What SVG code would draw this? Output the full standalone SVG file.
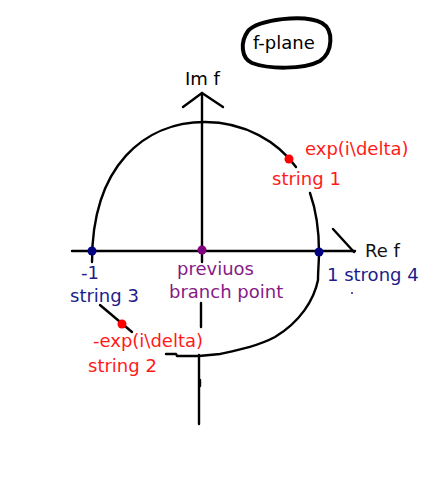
<svg xmlns="http://www.w3.org/2000/svg" width="427" height="502" viewBox="0 0 427 502">
<style>
.t{font-family:"DejaVu Sans",sans-serif;font-size:18px}
.ln{fill:none;stroke:#000;stroke-width:2.4;stroke-linecap:round;stroke-linejoin:round}
.red{fill:#ff1a1a}.navy{fill:#1c1c8c}.pur{fill:#861a86}
</style>
<rect width="427" height="502" fill="#fff"/>
<g id="title">
<path d="M248,31 C258,19 305,14 322,23 C334,30 333,52 320,61 C303,70 268,69 252,63 C241,58 240,42 248,31 Z" fill="none" stroke="#000" stroke-width="4"/>
<text class="t" x="253" y="49" fill="#000">f-plane</text>
</g>
<g id="connectors">
<path class="ln" d="M72,251 L355,251"/>
<path class="ln" d="M333,229 L354,252"/>
<path class="ln" d="M202,262 L202,93"/>
<path class="ln" d="M183,107 L202,93 L223,107"/>
<path class="ln" d="M201,303 L201,327"/>
<path class="ln" d="M199,355 L199,424"/>
<path class="ln" d="M200,380 L200,386" stroke-width="3.5"/>
<path class="ln" d="M92,262 C92,165 145,122 205,122 C245,122 278,142 296,167"/>
<path class="ln" d="M310,193 C316,210 319,232 319,252 C319,262 318,270 318,280 C314,300 300,322 275,337 C258,346 238,350 220,354 L199,356 L177,356 L176,354 L166,354"/>
<path class="ln" d="M100,305 L132,332"/>
</g>
<g id="im-axis-label"><text class="t" x="185" y="85" fill="#000">Im f</text></g>
<g id="re-axis-label"><text class="t" x="365" y="257" fill="#111">Re f</text></g>
<g id="string1">
<circle cx="289" cy="159" r="4.5" fill="#ff0000"/>
<text class="t red" x="305" y="155">exp(i\delta)</text>
<text class="t red" x="272" y="185">string 1</text>
</g>
<g id="string4">
<circle cx="319" cy="252" r="4.5" fill="#000080"/>
<text class="t navy" x="327" y="281">1 strong 4</text>
<rect x="351" y="292" width="2" height="2" fill="#5a5ab0"/>
</g>
<g id="string3">
<circle cx="92" cy="251" r="4.5" fill="#000080"/>
<text class="t navy" x="81" y="279">-1</text>
<text class="t navy" x="70" y="302">string 3</text>
</g>
<g id="branch-point">
<circle cx="202" cy="250" r="4.5" fill="#800080"/>
<text class="t pur" x="177" y="275">previuos</text>
<text class="t pur" x="169" y="298">branch point</text>
</g>
<g id="string2">
<circle cx="122" cy="324" r="4.5" fill="#ff0000"/>
<text class="t red" x="93" y="347">-exp(i\delta)</text>
<text class="t red" x="88" y="372">string 2</text>
</g>
</svg>
